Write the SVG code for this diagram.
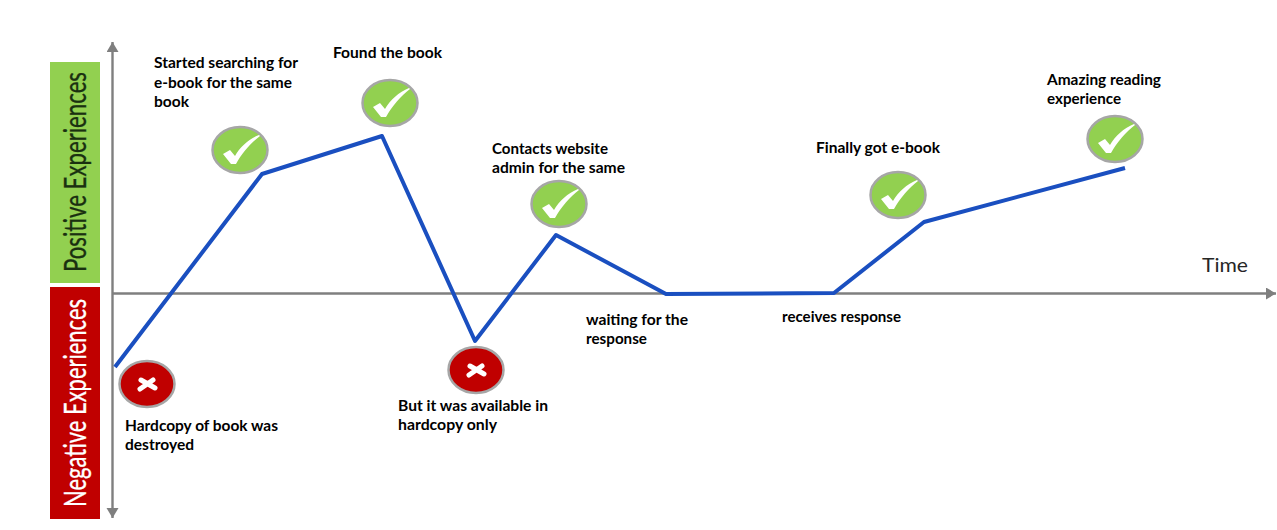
<svg xmlns="http://www.w3.org/2000/svg" width="1277" height="530" viewBox="0 0 1277 530">
<style>
.l{font-family:"Lato","Open Sans","Liberation Sans",sans-serif;font-weight:700;font-size:15px;fill:#000}
.band{font-family:"Lato","Liberation Sans",sans-serif;font-size:30px}
.ax{stroke:#7f7f7f;stroke-width:2.4;fill:none}
.ring{stroke:#a6a6a6;stroke-width:2.5}
.g{fill:#92d050}.r{fill:#c00000}
</style>
<defs>
<marker id="ah" markerUnits="userSpaceOnUse" markerWidth="13" markerHeight="13" refX="10" refY="6" orient="auto-start-reverse"><path d="M0 0L10 6L0 12Z" fill="#7f7f7f"/></marker>
<g id="chk"><ellipse rx="27.500" ry="23" class="ring g"/><path d="M-17 4L-10 0L-5 6C0-3 9-11 19-15L20-14C11-7 2 3-4 14L-9 14Z" fill="#fff"/></g>
<g id="crs"><ellipse rx="27.500" ry="23" class="ring r"/><path d="M-6-4L8 4M-7 5L6-4" stroke="#fff" stroke-width="5" stroke-linecap="round"/></g>
</defs>
<rect width="1277" height="530" fill="#fff"/>
<g id="band-positive"><rect x="50" y="62" width="50" height="221" fill="#92d050"/><text class="band" transform="translate(86 272) rotate(-90)" fill="#1a3010" stroke="#1a3010" stroke-width="0.3" textLength="200" lengthAdjust="spacingAndGlyphs">Positive Experiences</text></g>
<g id="band-negative"><rect x="50" y="287" width="50" height="232" fill="#c00000"/><text class="band" transform="translate(86 507) rotate(-90)" fill="#fff" stroke="#fff" stroke-width="0.3" textLength="208" lengthAdjust="spacingAndGlyphs">Negative Experiences</text></g>
<g id="connectors">
<path class="ax" d="M112.500 42V518" marker-start="url(#ah)" marker-end="url(#ah)"/>
<path class="ax" d="M113 293.500H1276" marker-end="url(#ah)"/>
<path d="M115 367L262 174L382 136L475 341L556 235L666 294L834 293L924 222L1125 168" fill="none" stroke="#1a4fc0" stroke-width="4" stroke-linejoin="round"/>
</g>
<g id="n1"><use href="#crs" x="147" y="384"/><text class="l"><tspan x="125" y="431" textLength="153" lengthAdjust="spacingAndGlyphs">Hardcopy of book was</tspan><tspan x="125" y="450" textLength="69" lengthAdjust="spacingAndGlyphs">destroyed</tspan></text></g>
<g id="n2"><use href="#chk" x="240" y="150"/><text class="l"><tspan x="154" y="68" textLength="144" lengthAdjust="spacingAndGlyphs">Started searching for</tspan><tspan x="154" y="88" textLength="138" lengthAdjust="spacingAndGlyphs">e-book for the same</tspan><tspan x="154" y="107" textLength="35" lengthAdjust="spacingAndGlyphs">book</tspan></text></g>
<g id="n3"><use href="#chk" x="390" y="103"/><text class="l" x="333" y="58" textLength="109" lengthAdjust="spacingAndGlyphs">Found the book</text></g>
<g id="n4"><use href="#crs" x="476" y="370"/><text class="l"><tspan x="398" y="411" textLength="150" lengthAdjust="spacingAndGlyphs">But it was available in</tspan><tspan x="398" y="430" textLength="99" lengthAdjust="spacingAndGlyphs">hardcopy only</tspan></text></g>
<g id="n5"><use href="#chk" x="559" y="204"/><text class="l"><tspan x="492" y="154" textLength="116" lengthAdjust="spacingAndGlyphs">Contacts website</tspan><tspan x="492" y="173" textLength="133" lengthAdjust="spacingAndGlyphs">admin for the same</tspan></text></g>
<g id="n6"><text class="l"><tspan x="586" y="325" textLength="102" lengthAdjust="spacingAndGlyphs">waiting for the</tspan><tspan x="586" y="344" textLength="61" lengthAdjust="spacingAndGlyphs">response</tspan></text></g>
<g id="n7"><text class="l" x="782" y="322" textLength="119" lengthAdjust="spacingAndGlyphs">receives response</text></g>
<g id="n8"><use href="#chk" x="898" y="195"/><text class="l" x="816" y="153" textLength="124" lengthAdjust="spacingAndGlyphs">Finally got e-book</text></g>
<g id="n9"><use href="#chk" x="1115" y="139"/><text class="l"><tspan x="1047" y="85" textLength="114" lengthAdjust="spacingAndGlyphs">Amazing reading</tspan><tspan x="1047" y="104" textLength="74" lengthAdjust="spacingAndGlyphs">experience</tspan></text></g>
<g id="time-label"><text x="1202" y="272" font-family="Lato,'Liberation Sans',sans-serif" font-size="19" fill="#262626" textLength="46" lengthAdjust="spacingAndGlyphs">Time</text></g>
</svg>
